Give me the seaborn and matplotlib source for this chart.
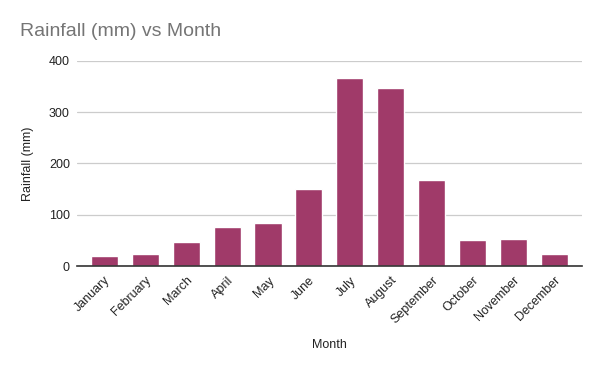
import pandas as pd
import matplotlib
matplotlib.use('Agg')
import matplotlib.pyplot as plt
import seaborn as sns

# data
months = ['January', 'February', 'March', 'April', 'May', 'June',
          'July', 'August', 'September', 'October', 'November', 'December']
rainfall = [20, 23, 47, 76, 84, 150, 367, 347, 168, 51, 53, 23]

df = pd.DataFrame({'Month': months, 'Rainfall (mm)': rainfall})

sns.set_style('white')
plt.rcParams['font.family'] = ['Liberation Sans', 'DejaVu Sans']

fig = plt.figure(figsize=(6, 3.71), dpi=100)
ax = fig.add_axes([0.128, 0.283, 0.842, 0.553])

sns.barplot(data=df, x='Month', y='Rainfall (mm)', color='#a03a69',
            width=0.66, saturation=1, ax=ax, zorder=3)

ax.set_ylim(0, 400)
ax.set_yticks([0, 100, 200, 300, 400])
ax.set_xlim(-0.67, 11.67)
ax.grid(axis='y', color='#cccccc', linewidth=0.9, zorder=0)
ax.grid(axis='x', visible=False)
for s in ['top', 'right', 'left']:
    ax.spines[s].set_visible(False)
ax.spines['bottom'].set_color('#333333')
ax.spines['bottom'].set_linewidth(1.2)
ax.spines['bottom'].set_zorder(4)

ax.tick_params(axis='both', length=0, labelsize=9, colors='#222222')
ax.tick_params(axis='y', pad=5)
ax.tick_params(axis='x', pad=6)
plt.setp(ax.get_xticklabels(), rotation=45, ha='right', rotation_mode='anchor')

ax.set_xlabel('Month', fontsize=9, color='#222222')
ax.set_ylabel('Rainfall (mm)', fontsize=9, color='#222222')
ax.xaxis.set_label_coords(0.5, -(339 - 266) / 205, transform=ax.transAxes)
ax.yaxis.set_label_coords((34 - 77) / 505, 0.5, transform=ax.transAxes)

fig.text(20 / 600, 1 - 32 / 371, 'Rainfall (mm) vs Month', fontsize=14,
         color='#757575', va='center', ha='left')

fig.savefig('out.png', dpi=100)
